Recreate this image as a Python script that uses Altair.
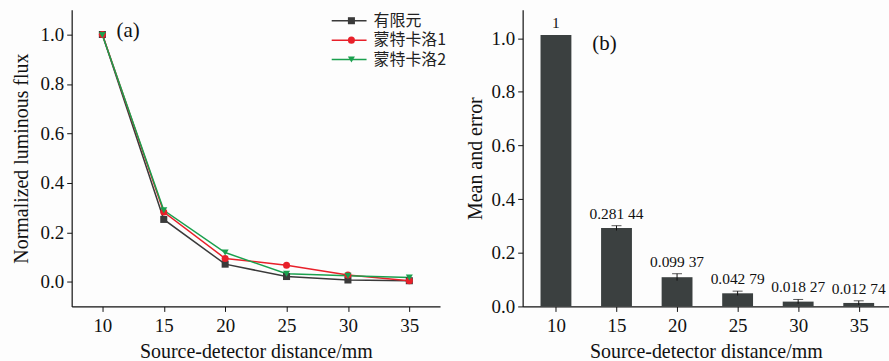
import altair as alt
import pandas as pd

# ---- data ----
distances = [10, 15, 20, 25, 30, 35]
fem = [1.0, 0.252, 0.071, 0.021, 0.007, 0.004]
mc1 = [1.0, 0.282, 0.094, 0.067, 0.027, 0.004]
mc2 = [0.998, 0.289, 0.118, 0.032, 0.024, 0.017]
series_names = ["有限元", "蒙特卡洛1", "蒙特卡洛2"]
series_colors = ["#3a3a3a", "#e8202a", "#1aa04e"]
series_shapes = ["square", "circle", "triangle-down"]

bar_means = [1.012, 0.292, 0.109, 0.049, 0.018, 0.013]
bar_errors = [0.0, 0.009, 0.013, 0.008, 0.008, 0.008]
bar_labels = ["1", "0.281 44", "0.099 37", "0.042 79", "0.018 27", "0.012 74"]

y_ticks = [0.0, 0.2, 0.4, 0.6, 0.8, 1.0]
panel_a_tag = {"d": [12.1], "v": [1.015], "t": ["(a)"]}
panel_b_tag = {"d": [14.0], "m": [0.977], "t": ["(b)"]}

SERIF = "Liberation Serif"
CJK = "Noto Sans CJK SC"

# ---- panel (a) ----
rows = []
for name, vals in zip(series_names, [fem, mc1, mc2]):
    for d, v in zip(distances, vals):
        rows.append({"d": d, "v": v, "s": name, "p": name})
df_a = pd.DataFrame(rows)

xa = alt.X("d:Q", scale=alt.Scale(domain=[7.5, 37.5], nice=False, zero=False, padding=0),
           axis=alt.Axis(values=distances, title="Source-detector distance/mm", labelPadding=5))
ya = alt.Y("v:Q", scale=alt.Scale(domain=[-0.1, 1.1], nice=False, padding=0),
           axis=alt.Axis(values=y_ticks, format=".1f", title="Normalized luminous flux",
                         titlePadding=9))

stroke_legend = alt.Legend(title=None, orient="none", legendX=270.7, legendY=3,
                           symbolType="M-3,0H3", symbolSize=136, symbolStrokeWidth=1.5,
                           labelFont=CJK, labelFontSize=16, labelColor="#222",
                           labelOffset=16.6, rowPadding=3.5)
shape_legend = alt.Legend(title=None, orient="none", legendX=273, legendY=3,
                          symbolSize=50, labelFont=CJK, labelFontSize=16,
                          labelExpr="''", labelOffset=0, rowPadding=3.5)

lines = alt.Chart(df_a).mark_line(strokeWidth=1.5).encode(
    x=xa, y=ya,
    stroke=alt.Stroke("s:N", scale=alt.Scale(domain=series_names, range=series_colors),
                      legend=stroke_legend),
)
points = alt.Chart(df_a).mark_point(filled=True, size=50, opacity=1).encode(
    x=xa, y=ya,
    fill=alt.Fill("p:N", scale=alt.Scale(domain=series_names, range=series_colors),
                  legend=shape_legend),
    shape=alt.Shape("p:N", scale=alt.Scale(domain=series_names, range=series_shapes),
                    legend=shape_legend),
    order=alt.Order("p:N"),
)
tag_a = alt.Chart(pd.DataFrame(panel_a_tag)).mark_text(
    font=SERIF, fontSize=21, color="#111").encode(x="d:Q", y="v:Q", text="t:N")

left = alt.layer(lines, points, tag_a).resolve_legend(
    stroke="independent", fill="independent", shape="independent"
).properties(width=370, height=298)

# ---- panel (b) ----
df_b = pd.DataFrame({"d": distances, "m": bar_means, "e": bar_errors, "lab": bar_labels})
df_b["lo"] = df_b["m"] - df_b["e"]
df_b["hi"] = df_b["m"] + df_b["e"]

xb = alt.X("d:Q", scale=alt.Scale(domain=[7.25, 37.5], nice=False, zero=False, padding=0),
           axis=alt.Axis(values=distances, title="Source-detector distance/mm", labelPadding=5))
yscale_b = alt.Scale(domain=[0, 1.106], nice=False, padding=0)
yb = alt.Y("m:Q", scale=yscale_b,
           axis=alt.Axis(values=y_ticks, format=".1f", title="Mean and error"))

bars = alt.Chart(df_b).mark_bar(size=31, color="#3b4040").encode(x=xb, y=yb)
err = alt.Chart(df_b).transform_filter("datum.e > 0").mark_rule(color="#111", strokeWidth=1).encode(
    x="d:Q", y=alt.Y("lo:Q", scale=yscale_b), y2="hi:Q")
caps = alt.Chart(df_b).transform_filter("datum.e > 0").mark_tick(
    orient="horizontal", size=10, thickness=1, color="#111").encode(
    x="d:Q", y=alt.Y("hi:Q", scale=yscale_b))
labels = alt.Chart(df_b).mark_text(baseline="bottom", dy=-4, font=SERIF, fontSize=15.5,
                                   color="#111").encode(
    x="d:Q", y=alt.Y("hi:Q", scale=yscale_b), text="lab:N")
tag_b = alt.Chart(pd.DataFrame(panel_b_tag)).mark_text(
    font=SERIF, fontSize=21, color="#111").encode(x="d:Q", y=alt.Y("m:Q", scale=yscale_b), text="t:N")

right = alt.layer(bars, err, caps, labels, tag_b).properties(width=368, height=298)

chart = alt.hconcat(left, right, spacing=18).properties(
    padding={"left": 11, "top": 9, "right": 0, "bottom": 0},
    background="#fdfdfd",
).configure_view(stroke=None).configure_axis(
    grid=False, domainColor="#111", tickColor="#111", tickSize=5, domainWidth=1.2,
    labelFont=SERIF, labelFontSize=19, labelColor="#111", labelPadding=3,
    titleFont=SERIF, titleFontSize=20, titleFontWeight="normal", titleColor="#111",
    titlePadding=6,
)

chart.save("out.html", embed_options={"renderer": "svg", "actions": False})
